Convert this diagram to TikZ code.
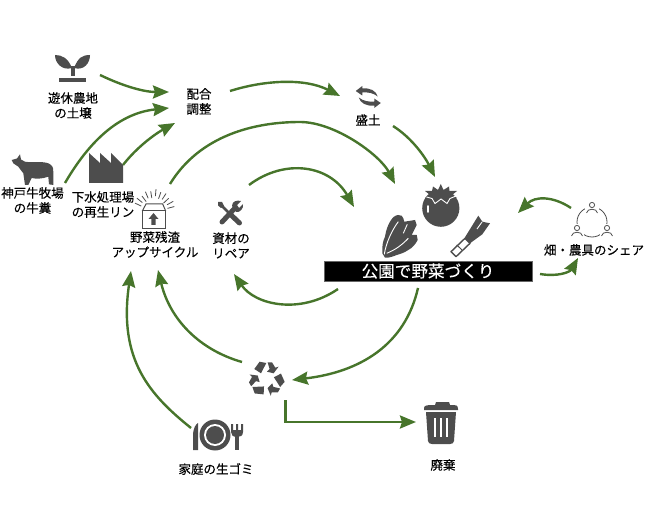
\documentclass[tikz,border=0pt]{standalone}
\usepackage{fontspec}
\setmainfont{Noto Sans CJK JP}[FakeBold=0.25]
\usetikzlibrary{arrows.meta,calc}
\definecolor{flow}{HTML}{47752B}
\definecolor{ico}{HTML}{4D4D4D}
\tikzset{
 flowline/.style={draw=flow,line width=2.4pt,-{Stealth[length=16pt,width=13pt,inset=2pt]}},
 lab/.style={align=center,font=\fontsize{12.5}{15}\selectfont,inner sep=0pt,text=black},
 ic/.style={fill=ico,draw=none},
 icl/.style={draw=ico,line width=1pt,fill=none},
 wl/.style={draw=white,line width=0.9pt},
}
\begin{document}
\begin{tikzpicture}[x=1pt,y=-1pt]
\useasboundingbox (0,0) rectangle (650,518);
% labels
\node[lab] (soil) at (73,105.5) {遊休農地\\の土壌};
\node[lab] (mix) at (199,101.5) {配合\\調整};
\node[lab] (mound) at (368,120) {盛土};
\node[lab] (cow) at (32.5,200.5) {神戸牛牧場\\の牛糞};
\node[lab] (sew) at (103,204.5) {下水処理場\\の再生リン};
\node[lab] (upc) at (155,244.5) {野菜残渣\\アップサイクル};
\node[lab] (rep) at (231,245.5) {資材の\\リペア};
\node[lab] (share) at (594,250) {畑・農具のシェア};
\node[lab] (home) at (216,469) {家庭の生ゴミ};
\node[lab] (waste) at (443,465) {廃棄};
\node[fill=black,draw=black!60,line width=0.6pt,minimum width=208pt,minimum height=20pt,inner sep=0pt,text=white,font=\fontsize{16.6}{18}\selectfont] (park) at (428,271) {公園で野菜づくり};
% connector ends
\coordinate (s1) at (100,75); \coordinate (e1) at (169,92);
\coordinate (s2) at (65,183); \coordinate (e2) at (169,108);
\coordinate (s3) at (123,165); \coordinate (e3) at (175,123);
\coordinate (s4) at (170,184); \coordinate (e4) at (395,184);
\coordinate (s5) at (230,91); \coordinate (e5) at (340,96);
\coordinate (s6) at (393,126); \coordinate (e6) at (435,177);
\coordinate (s7) at (249,185); \coordinate (e7) at (354,207);
\coordinate (s8) at (338,289); \coordinate (e8) at (234,274);
\coordinate (s9) at (418,288); \coordinate (e9) at (292,380);
\coordinate (s10) at (242,362); \coordinate (e10) at (158,270);
\coordinate (s11) at (191,428); \coordinate (e11) at (131,271);
\coordinate (s12) at (285.5,400); \coordinate (k12) at (285.5,422); \coordinate (e12) at (416,422);
\coordinate (s13) at (571,208); \coordinate (e13) at (518,213);
\coordinate (s14) at (540,274); \coordinate (e14) at (578,258);
% connectors
\draw[flowline] (s1) .. controls (125,87) and (145,92) .. (e1);
\draw[flowline] (s2) .. controls (90,140) and (120,113) .. (e2);
\draw[flowline] (s3) .. controls (137,147) and (155,134) .. (e3);
\draw[flowline] (s4) .. controls (200,135) and (255,122) .. (300,122) .. controls (335,122) and (380,155) .. (e4);
\draw[flowline] (s5) .. controls (265,80) and (305,78) .. (e5);
\draw[flowline] (s6) .. controls (412,138) and (425,157) .. (e6);
\draw[flowline] (s7) .. controls (285,158) and (330,165) .. (e7);
\draw[flowline] (s8) .. controls (300,315) and (255,305) .. (e8);
\draw[flowline] (s9) .. controls (405,345) and (360,372) .. (e9);
\draw[flowline] (s10) .. controls (200,350) and (170,320) .. (e10);
\draw[flowline] (s11) .. controls (150,395) and (118,360) .. (e11);
\draw[flowline] (s12) -- (k12) -- (e12);
\draw[flowline] (s13) .. controls (553,196) and (535,196) .. (e13);
\draw[flowline] (s14) .. controls (558,277) and (570,272) .. (e14);
% sprout
\fill[ic] (59,78) rectangle (86,82);
\fill[ic] (71,76) -- (71,66) -- (75,66) -- (75,76) -- cycle;
\fill[ic] (72,68) .. controls (68,58) and (62,55) .. (55,55) .. controls (55,63) and (62,71) .. (72,68) -- cycle;
\fill[ic] (74,68) .. controls (78,58) and (82,55) .. (90,55) .. controls (90,63) and (84,71) .. (74,68) -- cycle;
% cow
\fill[ic] (11.7,160) -- (17,158.5) -- (20,154.3) -- (21,159.5) -- (25,161.7) .. controls (33,163) and (42,161) .. (48.3,163.3) .. controls (52,165) and (53.5,167) .. (53.3,172) -- (53.3,185) -- (49,184.3) -- (48.3,176.7) .. controls (42,179) and (36,179) .. (31.7,178) -- (28.3,185) -- (25,185) -- (23.3,173.3) -- (18.3,166.7) -- (13.3,163.3) -- cycle;
% factory
\fill[ic] (89,183) -- (89,153) -- (100,163) -- (100,153) -- (111,163) -- (111,153) -- (123,165) -- (123,183) -- cycle;
% upcycle box
\draw[icl] (142.3,211) rectangle (165.7,228.3);
\draw[icl] (142.3,211) -- (146,204) -- (162.7,204) -- (165.7,211);
\fill[ic] (153.5,213) -- (158.5,219) -- (155.7,219) -- (155.7,225) -- (151.3,225) -- (151.3,219) -- (148.5,219) -- cycle;
\foreach \a/\r in {-155/14,-141/15,-127/13,-113/15,-99/14,-85/16,-71/14,-57/15,-43/13,-29/15,-15/14}{
  \draw[ico,line width=0.8pt] ($(154,212)+(\a:\r)$) -- ($(154,212)+(\a:\r+7)$);
}
% tools
\draw[ico,line width=5pt,line cap=round] (222,222) -- (235,208);
\fill[ic] (232,206) .. controls (232,201) and (237,200) .. (241,201) -- (237,205) -- (239,208) -- (243,204) .. controls (244,208) and (240,213) .. (236,212) -- cycle;
\draw[ico,line width=2.8pt] (221,205) -- (231,215);
\draw[ico,line width=5pt,line cap=round] (230,214) -- (239.5,223);
\fill[ic] (218,202) -- (222,202) -- (224,206) -- (221,208) -- (218,205.5) -- cycle;
% mound icon (two arrows)
\foreach \r in {0,180}{
 \begin{scope}[shift={(368.25,97)},rotate=\r]
  \fill[ic] (-12.5,-6) -- (-6,-11) -- (-6,-8.5) .. controls (2,-9.5) and (8,-6) .. (9.5,-0.5) .. controls (5,-4) and (0,-5) .. (-6,-4.5) -- (-6,-1.5) -- cycle;
 \end{scope}
}
% tomato
\fill[ic] (440.8,208.2) circle (18.6);
\fill[ic] (440.8,184) -- (443.5,190) -- (449,186.5) -- (449.5,191) -- (457,191) -- (452,195) -- (457,198) -- (450,198) -- (447,203) -- (441,198) -- (435,203) -- (432,198) -- (425,198) -- (430,195) -- (425,191) -- (432,191) -- (433,186.5) -- (438,190) -- cycle;
\draw[wl] (426.5,197) -- (432,198.5) -- (435,203.5) -- (441,199) -- (447,203.5) -- (450,198.5) -- (456,196);
\draw[white,line width=1.6pt,line cap=round] (428,206) -- (428,212);
% spinach
\fill[ic] (382.3,253.3) .. controls (382,245) and (383,241) .. (385,236.7) .. controls (386,230) and (388,225) .. (390,221.7) .. controls (392,218) and (395,215) .. (398.3,215) .. controls (401,215) and (403,216) .. (403.3,218.3) -- (404.3,221.7) -- (415,220) -- (416.7,225) -- (411.7,235) -- (416.7,235) -- (417.7,240) .. controls (415,245) and (412,248) .. (408.3,250) .. controls (404,253) and (400,254) .. (396.7,255) .. controls (392,257) and (388,258) .. (385,257.7) -- cycle;
\draw[wl] (384.3,254.3) .. controls (386,243) and (392,230) .. (398.3,221.7);
\draw[wl] (386.7,253.3) .. controls (395,250) and (402,245) .. (408.3,238.3);
\draw[wl] (403.3,233.3) -- (407.3,224.3);
% leek
\fill[ic] (463.3,240) -- (478.3,215.7) -- (482.3,221.7) -- (490,223.3) -- (482.3,234.3) -- (470,243.3) -- cycle;
\draw[white,line width=0.9pt] (477,229) -- (482,222);
\draw[ico,line width=1.4pt,fill=white,line join=round] (451,251.7) -- (465,238.3) -- (470,243.3) -- (456,256.7) -- cycle;
\draw[ico,line width=1pt] (456.7,244.8) -- (462,250);
% share icon
\draw[ico,line width=0.8pt] (592,222) circle (15);
\foreach \x/\y in {592/206,577/229,607/229}{
  \fill[white] (\x-7,\y-5) rectangle (\x+7,\y+8);
  \draw[ico,line width=0.8pt] (\x,\y-1) circle (2.6);
  \draw[ico,line width=0.8pt] (\x-5.5,\y+7) .. controls (\x-5,\y+2) and (\x+5,\y+2) .. (\x+5.5,\y+7);
}
% recycle
\foreach \r in {0,120,240}{
  \begin{scope}[shift={(266.3,379)},rotate=\r]
    \fill[ic] (-12,-10) -- (-6.7,-17.3) -- (0,-16) -- (-5.3,-5.7) -- cycle;
    \fill[ic] (1.3,-16.7) -- (5.7,-16.7) -- (9,-11.3) -- (12.3,-12.3) -- (7.3,-5.7) -- (0.7,-7.3) -- (3.3,-10) -- cycle;
  \end{scope}
}
% plate
\fill[ic] (215,435) circle (15.5);
\fill[white] (215,435) circle (11);
\fill[ic] (215,435) circle (9);
\fill[ic] (193,450) -- (193,436) .. controls (193,428) and (196,424) .. (198,423) -- (198,450) -- cycle;
\fill[ic] (235,450) rectangle (239,434);
\fill[ic] (231,424) -- (233,424) -- (233,430) -- (236,430) -- (236,424) -- (238,424) -- (238,430) -- (241,430) -- (241,424) -- (243,424) -- (243,432) .. controls (243,436) and (240,437) .. (237,437) .. controls (233,437) and (231,435) .. (231,432) -- cycle;
% trash
\fill[ic] (424,408) .. controls (424,405) and (428,405) .. (435,405) -- (436,402) -- (449,402) -- (450,405) .. controls (456,405) and (458,405) .. (458,409) -- (458,410) -- (424,410) -- cycle;
\fill[ic] (426,412) -- (456,412) -- (454,441) .. controls (454,443) and (452,444) .. (450,444) -- (432,444) .. controls (430,444) and (428,443) .. (428,441) -- cycle;
\foreach \x in {435,441,447}{\draw[white,line width=1.3pt] (\x,418) -- (\x,437);}
\end{tikzpicture}
\end{document}
